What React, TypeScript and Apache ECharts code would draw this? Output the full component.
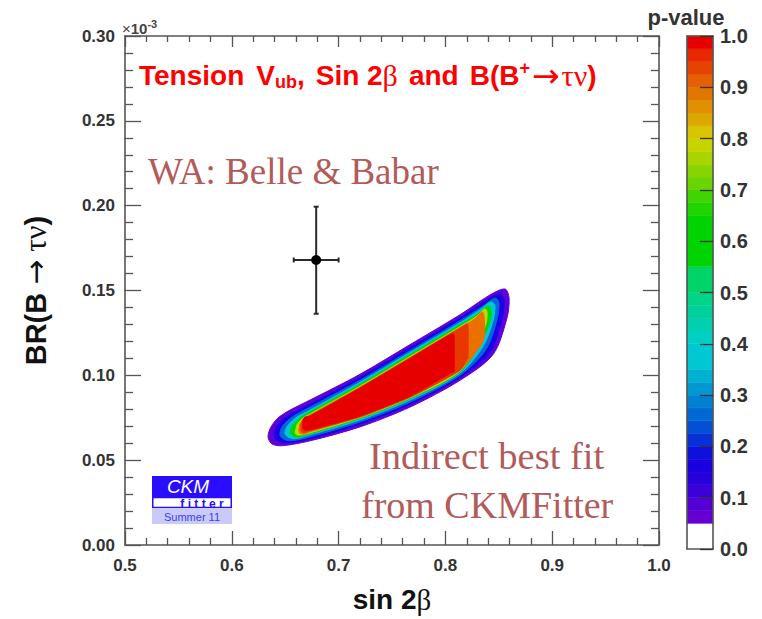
import React, { useEffect, useRef } from "react";
import * as echarts from "echarts";

// ---------- Data ----------
const xMin = 0.5;
const xMax = 1.0;
const xInterval = 0.1;
const yMin = 0;
const yMax = 0.3;
const yInterval = 0.05;

// World average (Belle & Babar) measurement: [sin2beta, BR], with error ranges
const waPoint = [0.679, 0.168];
const waXRange = [0.658, 0.7];
const waYRange = [0.1363, 0.1994];

// p-value contour levels of the indirect CKMfitter fit (outer to inner)
const contourLevelNames = ["p>0.05", "p>0.10", "p>0.20", "p>0.30", "p>0.50", "p>0.70", "p>0.85", "p>0.90", "p>0.95"];
const contourColors = ["#6000d8", "#1c00e6", "#0466dc", "#00c8d4", "#00d600", "#c0d800", "#ec7000", "#e83800", "#e60000"];

const contourP05 = [
  [0.6376, 0.0596], [0.6339, 0.0637], [0.6367, 0.0696], [0.6433, 0.0749], [0.6545, 0.0795], [0.6732, 0.0854],
  [0.72, 0.1006], [0.7669, 0.1181], [0.8137, 0.1357], [0.8418, 0.1474], [0.8558, 0.1509], [0.8596, 0.1456],
  [0.8577, 0.1339], [0.8446, 0.1123], [0.8137, 0.0971], [0.7669, 0.0813], [0.72, 0.0696], [0.6732, 0.0614],
  [0.647, 0.0585],
];
const contourP10 = [
  [0.6423, 0.0614], [0.6395, 0.0643], [0.6414, 0.069], [0.6461, 0.0731], [0.6564, 0.0778], [0.6732, 0.083],
  [0.72, 0.0988], [0.7669, 0.1164], [0.8137, 0.1339], [0.839, 0.1444], [0.8511, 0.148], [0.8549, 0.1439],
  [0.853, 0.1333], [0.8418, 0.1135], [0.8137, 0.0988], [0.7669, 0.083], [0.72, 0.0713], [0.6732, 0.0626],
  [0.6507, 0.0602],
];
const contourP20 = [
  [0.6479, 0.0626], [0.6451, 0.0649], [0.6461, 0.0684], [0.6498, 0.0719], [0.6592, 0.0766], [0.6732, 0.0813],
  [0.72, 0.0971], [0.7669, 0.1146], [0.8137, 0.1322], [0.8352, 0.1409], [0.8464, 0.1456], [0.8502, 0.1427],
  [0.8483, 0.1327], [0.838, 0.1152], [0.8137, 0.1], [0.7669, 0.0842], [0.72, 0.0725], [0.6732, 0.0637],
  [0.6554, 0.0614],
];
const contourP30 = [
  [0.6526, 0.0637], [0.6498, 0.0655], [0.6507, 0.0684], [0.6536, 0.0713], [0.661, 0.0754], [0.6732, 0.0795],
  [0.72, 0.0959], [0.7669, 0.1135], [0.8137, 0.131], [0.8324, 0.1386], [0.8427, 0.1433], [0.8464, 0.1409],
  [0.8446, 0.1322], [0.8352, 0.117], [0.8137, 0.1012], [0.7669, 0.0854], [0.72, 0.0737], [0.6732, 0.0649],
  [0.6592, 0.0626],
];
const contourP50 = [
  [0.6573, 0.0643], [0.6545, 0.0661], [0.6554, 0.0684], [0.6573, 0.0708], [0.6639, 0.0749], [0.6732, 0.0784],
  [0.72, 0.0947], [0.7669, 0.1123], [0.8137, 0.1298], [0.8305, 0.1363], [0.8399, 0.1409], [0.8427, 0.1392],
  [0.8418, 0.1316], [0.8324, 0.1187], [0.8137, 0.102], [0.7669, 0.0863], [0.72, 0.0746], [0.6732, 0.0655],
  [0.6629, 0.0637],
];
const contourP70 = [
  [0.661, 0.0649], [0.6592, 0.0661], [0.6601, 0.0684], [0.661, 0.0708], [0.6657, 0.0743], [0.6732, 0.0772],
  [0.72, 0.0936], [0.7669, 0.1111], [0.8137, 0.1287], [0.8287, 0.1345], [0.8371, 0.1392], [0.839, 0.1374],
  [0.838, 0.1304], [0.8305, 0.1199], [0.8137, 0.1026], [0.7669, 0.0868], [0.72, 0.0751], [0.6732, 0.0661],
  [0.6657, 0.0649],
];
const contourP85 = [
  [0.6648, 0.0655], [0.6629, 0.0667], [0.6629, 0.0684], [0.6639, 0.0713], [0.6676, 0.0743], [0.6732, 0.0766],
  [0.72, 0.093], [0.7669, 0.1105], [0.8137, 0.1281], [0.8277, 0.1333], [0.8343, 0.1374], [0.8361, 0.1351],
  [0.8361, 0.1216], [0.8296, 0.1146], [0.8137, 0.1032], [0.7669, 0.0874], [0.72, 0.0757], [0.6732, 0.0667],
  [0.6685, 0.0655],
];
const contourP90 = [
  [0.6676, 0.0661], [0.6648, 0.0673], [0.6648, 0.0713], [0.6667, 0.0743], [0.6732, 0.0763], [0.72, 0.0927],
  [0.7669, 0.1102], [0.8137, 0.1278], [0.8202, 0.1304], [0.8212, 0.1298], [0.8212, 0.11], [0.8202, 0.1094],
  [0.8137, 0.1029], [0.7669, 0.0871], [0.72, 0.0754], [0.6732, 0.0673],
];
const contourP95 = [
  [0.6685, 0.0678], [0.6667, 0.0684], [0.6667, 0.0731], [0.6685, 0.0754], [0.6732, 0.076], [0.72, 0.0924],
  [0.7669, 0.1099], [0.8062, 0.1246], [0.8081, 0.1234], [0.8081, 0.1023], [0.8062, 0.1018], [0.7669, 0.0877],
  [0.72, 0.076], [0.6732, 0.0678],
];
const contourShapes = [contourP05, contourP10, contourP20, contourP30, contourP50, contourP70, contourP85, contourP90, contourP95];

// Colour scale (p-value) bands
const barEdges = [0, 0.05, 0.075, 0.1, 0.125, 0.15, 0.175, 0.2, 0.225, 0.25, 0.275, 0.3, 0.325, 0.35, 0.4, 0.425,
  0.45, 0.475, 0.5, 0.55, 0.65, 0.675, 0.7, 0.725, 0.75, 0.775, 0.8, 0.825, 0.85, 0.875, 0.9, 0.925, 0.95, 0.975, 1.0];
const barColors = ["#ffffff", "#6400d2", "#5400d4", "#3c00d8", "#2800dc", "#1a00de", "#1010dc", "#0830d6", "#0450d4",
  "#0068d2", "#0080d0", "#0098d0", "#00b0d0", "#00c8d2", "#00d0c4", "#00d0b0", "#00d09c", "#00d488", "#00d468",
  "#00d400", "#20d400", "#40d400", "#68d400", "#88d400", "#a8d400", "#c8d400", "#d8c400", "#dca800", "#e09000",
  "#e07800", "#e46000", "#e44400", "#e82800", "#e80000"];

// ---------- Chart ----------
const AXIS = "#555";
const SANS = "'Liberation Sans', Arial, Helvetica, sans-serif";
const SERIF = "'Liberation Serif', 'Times New Roman', serif";
const DEJA = "'DejaVu Sans', sans-serif";
const RED = "#ff0000";

export default function App() {
  const ref = useRef<HTMLDivElement>(null);

  useEffect(() => {
    if (!ref.current) return;
    const chart = echarts.init(ref.current, undefined, { renderer: "svg" });

    const contourData = contourShapes.map((_, i) => [0.75, 0.1, i]);
    const barData = barColors.map((_, i) => [0.5, barEdges[i], i, barEdges[i + 1]]);

    const mainTickStyle = { color: AXIS, width: 1.3 };

    const option: any = {
      animation: false,
      backgroundColor: "#ffffff",
      textStyle: { fontFamily: SANS },
      grid: [
        { left: 125, top: 36, width: 534, height: 513 },
        { left: 687, top: 36, width: 26, height: 513 },
      ],
      xAxis: [
        {
          type: "value", gridIndex: 0, min: xMin, max: xMax, interval: xInterval, position: "bottom",
          axisLine: { show: true, onZero: false, lineStyle: { color: AXIS, width: 1.6 } },
          axisTick: { show: true, inside: true, length: 14, lineStyle: mainTickStyle },
          minorTick: { show: true, splitNumber: 5, length: 7, lineStyle: mainTickStyle },
          axisLabel: { formatter: (v: number) => v.toFixed(1), fontSize: 17, fontWeight: "bold", color: "#333", margin: 12, fontFamily: SANS },
          splitLine: { show: false },
          name: "{b|sin 2}{g|β}", nameLocation: "middle", nameGap: 40,
          nameTextStyle: {
            rich: {
              b: { fontSize: 28, fontWeight: "bold", color: "#111", fontFamily: SANS },
              g: { fontSize: 29, color: "#111", fontFamily: SERIF },
            },
          },
        },
        {
          type: "value", gridIndex: 0, min: xMin, max: xMax, interval: xInterval, position: "top",
          axisLine: { show: true, onZero: false, lineStyle: { color: AXIS, width: 1.6 } },
          axisTick: { show: true, inside: true, length: 11, lineStyle: mainTickStyle },
          minorTick: { show: true, splitNumber: 5, length: 6, lineStyle: mainTickStyle },
          axisLabel: { show: false }, splitLine: { show: false },
        },
        {
          type: "value", gridIndex: 1, min: 0, max: 1, position: "bottom", z: 10,
          axisLine: { show: true, onZero: false, lineStyle: { color: AXIS, width: 1.6 } },
          axisTick: { show: false }, axisLabel: { show: false }, splitLine: { show: false },
        },
        {
          type: "value", gridIndex: 1, min: 0, max: 1, position: "top", z: 10,
          axisLine: { show: true, onZero: false, lineStyle: { color: AXIS, width: 1.6 } },
          axisTick: { show: false }, axisLabel: { show: false }, splitLine: { show: false },
        },
      ],
      yAxis: [
        {
          type: "value", gridIndex: 0, min: yMin, max: yMax, interval: yInterval, position: "left",
          axisLine: { show: true, onZero: false, lineStyle: { color: AXIS, width: 1.6 } },
          axisTick: { show: true, inside: true, length: 16, lineStyle: mainTickStyle },
          minorTick: { show: true, splitNumber: 5, length: 8, lineStyle: mainTickStyle },
          axisLabel: { formatter: (v: number) => v.toFixed(2), fontSize: 17, fontWeight: "bold", color: "#333", margin: 10, fontFamily: SANS },
          splitLine: { show: false },
          name: "{b|BR(B }{a|→}{g| τν}{b|)}", nameLocation: "middle", nameGap: 74, nameRotate: 90,
          nameTextStyle: {
            rich: {
              b: { fontSize: 29, fontWeight: "bold", color: "#111", fontFamily: SANS },
              a: { fontSize: 30, color: "#111", fontFamily: DEJA },
              g: { fontSize: 31, color: "#111", fontFamily: SERIF },
            },
          },
        },
        {
          type: "value", gridIndex: 0, min: yMin, max: yMax, interval: yInterval, position: "right",
          axisLine: { show: true, onZero: false, lineStyle: { color: AXIS, width: 1.6 } },
          axisTick: { show: true, inside: true, length: 16, lineStyle: mainTickStyle },
          minorTick: { show: true, splitNumber: 5, length: 8, lineStyle: mainTickStyle },
          axisLabel: { show: false }, splitLine: { show: false },
        },
        {
          type: "value", gridIndex: 1, min: 0, max: 1, interval: 0.1, position: "right", z: 10,
          axisLine: { show: true, onZero: false, lineStyle: { color: AXIS, width: 1.6 } },
          axisTick: { show: true, inside: true, length: 13, lineStyle: { color: "#333", width: 1.3 } },
          axisLabel: { formatter: (v: number) => v.toFixed(1), fontSize: 20, fontWeight: "bold", color: "#333", margin: 7, fontFamily: SANS },
          splitLine: { show: false },
        },
        {
          type: "value", gridIndex: 1, min: 0, max: 1, position: "left", z: 10,
          axisLine: { show: true, onZero: false, lineStyle: { color: AXIS, width: 1.6 } },
          axisTick: { show: false }, axisLabel: { show: false }, splitLine: { show: false },
        },
      ],
      series: [
        {
          type: "custom", name: "Indirect fit", coordinateSystem: "cartesian2d", xAxisIndex: 0, yAxisIndex: 0,
          clip: true, encode: { x: 0, y: 1 }, data: contourData,
          renderItem: (_p: any, api: any) => {
            const idx = api.value(2);
            const pts = contourShapes[idx].map((p) => api.coord(p));
            return {
              type: "polygon",
              name: contourLevelNames[idx],
              shape: { points: pts, smooth: idx >= 7 ? 0.15 : 0.3 },
              style: { fill: contourColors[idx], stroke: contourColors[idx], lineWidth: 1 },
            };
          },
        },
        {
          type: "custom", name: "WA", coordinateSystem: "cartesian2d", xAxisIndex: 0, yAxisIndex: 0,
          encode: { x: 0, y: 1 },
          data: [[waPoint[0], waPoint[1], waXRange[0], waXRange[1], waYRange[0], waYRange[1]]],
          renderItem: (_p: any, api: any) => {
            const c = api.coord([api.value(0), api.value(1)]);
            const xl = api.coord([api.value(2), api.value(1)]);
            const xh = api.coord([api.value(3), api.value(1)]);
            const yl = api.coord([api.value(0), api.value(4)]);
            const yh = api.coord([api.value(0), api.value(5)]);
            const st = { stroke: "#2a2a2a", lineWidth: 2 };
            const cap = 2.5;
            return {
              type: "group",
              children: [
                { type: "line", shape: { x1: xl[0], y1: c[1], x2: xh[0], y2: c[1] }, style: st },
                { type: "line", shape: { x1: c[0], y1: yl[1], x2: c[0], y2: yh[1] }, style: st },
                { type: "line", shape: { x1: xl[0], y1: c[1] - cap, x2: xl[0], y2: c[1] + cap }, style: st },
                { type: "line", shape: { x1: xh[0], y1: c[1] - cap, x2: xh[0], y2: c[1] + cap }, style: st },
                { type: "line", shape: { x1: c[0] - cap, y1: yl[1], x2: c[0] + cap, y2: yl[1] }, style: st },
                { type: "line", shape: { x1: c[0] - cap, y1: yh[1], x2: c[0] + cap, y2: yh[1] }, style: st },
                { type: "circle", shape: { cx: c[0], cy: c[1], r: 5 }, style: { fill: "#000" } },
              ],
            };
          },
        },
        {
          type: "custom", name: "p-value scale", coordinateSystem: "cartesian2d", xAxisIndex: 2, yAxisIndex: 2,
          encode: { x: 0, y: 1 }, data: barData,
          renderItem: (_p: any, api: any) => {
            const idx = api.value(2);
            const lo = api.value(1);
            const hi = api.value(3);
            const a = api.coord([0, hi]);
            const b = api.coord([1, lo]);
            return {
              type: "rect",
              shape: { x: a[0], y: a[1], width: b[0] - a[0], height: b[1] - a[1] },
              style: { fill: barColors[idx], stroke: barColors[idx], lineWidth: 0.5 },
            };
          },
        },
      ],
      graphic: [
        {
          type: "text", left: 139, top: 58, z: 20,
          style: {
            text: "{t|Tension}{v|V}{s|ub}{t|,}{w|Sin 2}{g|β}{w|and}{w|B(B}{p|+}{a|→}{g|τν}{t|)}",
            rich: {
              t: { fontSize: 28, fontWeight: "bold", fill: RED, fontFamily: SANS, lineHeight: 32, verticalAlign: "middle" },
              v: { fontSize: 28, fontWeight: "bold", fill: RED, fontFamily: SANS, lineHeight: 32, verticalAlign: "middle", padding: [0, 0, 0, 12] },
              w: { fontSize: 28, fontWeight: "bold", fill: RED, fontFamily: SANS, lineHeight: 32, verticalAlign: "middle", padding: [0, 0, 0, 11] },
              s: { fontSize: 18, fontWeight: "bold", fill: RED, fontFamily: SANS, lineHeight: 32, verticalAlign: "bottom", padding: [15, 0, 0, 0] },
              p: { fontSize: 18, fontWeight: "bold", fill: RED, fontFamily: SANS, lineHeight: 32, verticalAlign: "top", padding: [0, 0, 11, 0] },
              a: { fontSize: 33, fill: RED, fontFamily: DEJA, lineHeight: 32, verticalAlign: "middle", padding: [0, 2, 0, 2] },
              g: { fontSize: 30, fill: RED, fontFamily: SERIF, lineHeight: 32, verticalAlign: "middle" },
            },
          },
        },
        {
          type: "text", x: 122, y: 28, z: 20,
          style: {
            text: "{a|×}{b|10}{c|-3}",
            rich: {
              a: { fontSize: 15, fill: "#444", fontFamily: SANS, lineHeight: 20, verticalAlign: "middle" },
              b: { fontSize: 15, fontWeight: "bold", fill: "#444", fontFamily: SANS, lineHeight: 20, verticalAlign: "middle" },
              c: { fontSize: 11, fontWeight: "bold", fill: "#444", fontFamily: SANS, lineHeight: 20, verticalAlign: "top", padding: [0, 0, 12, 0] },
            },
            verticalAlign: "middle",
          },
        },
        {
          type: "text", x: 148, y: 171, z: 20,
          style: { text: "WA: Belle & Babar", fontSize: 37, fontFamily: SERIF, fill: "#b35a5a", verticalAlign: "middle" },
        },
        {
          type: "text", x: 369, y: 456, z: 20,
          style: { text: "Indirect best fit", fontSize: 38.5, fontFamily: SERIF, fill: "#b35a5a", verticalAlign: "middle" },
        },
        {
          type: "text", x: 361, y: 505, z: 20,
          style: { text: "from CKMFitter", fontSize: 38, fontFamily: SERIF, fill: "#b35a5a", verticalAlign: "middle" },
        },
        {
          type: "text", x: 686, y: 17, z: 20,
          style: { text: "p-value", fontSize: 22, fontWeight: "bold", fontFamily: SANS, fill: "#333", align: "center", verticalAlign: "middle" },
        },
        {
          type: "group", x: 152, y: 476, z: 20,
          children: [
            { type: "rect", shape: { x: 0, y: 0, width: 80, height: 21 }, style: { fill: "#2a0cff" } },
            { type: "text", x: 36, y: 10, style: { text: "CKM", fontSize: 19, lineHeight: 18, fontStyle: "italic", fontFamily: SANS, fill: "#ffffff", align: "center", verticalAlign: "middle" } },
            { type: "rect", shape: { x: 0.75, y: 21.5, width: 78.5, height: 10 }, style: { fill: "#ffffff", stroke: "#2a0cff", lineWidth: 1.5 } },
            { type: "text", x: 50, y: 27.5, style: { text: "f i t t e r", fontSize: 12, lineHeight: 10, fontWeight: "bold", fontFamily: SANS, fill: "#2a0cff", align: "center", verticalAlign: "middle" } },
            { type: "rect", shape: { x: 0, y: 32, width: 80, height: 16 }, style: { fill: "#cacaf8" } },
            { type: "text", x: 40, y: 40.5, style: { text: "Summer 11", fontSize: 11, lineHeight: 12, fontFamily: SANS, fill: "#3a3aff", align: "center", verticalAlign: "middle" } },
          ],
        },
      ],
    };

    chart.setOption(option);
    return () => chart.dispose();
  }, []);

  return (
    <div
      ref={ref}
      style={{ position: "fixed", left: 0, top: 0, width: 762, height: 619, background: "#fff" }}
    />
  );
}
